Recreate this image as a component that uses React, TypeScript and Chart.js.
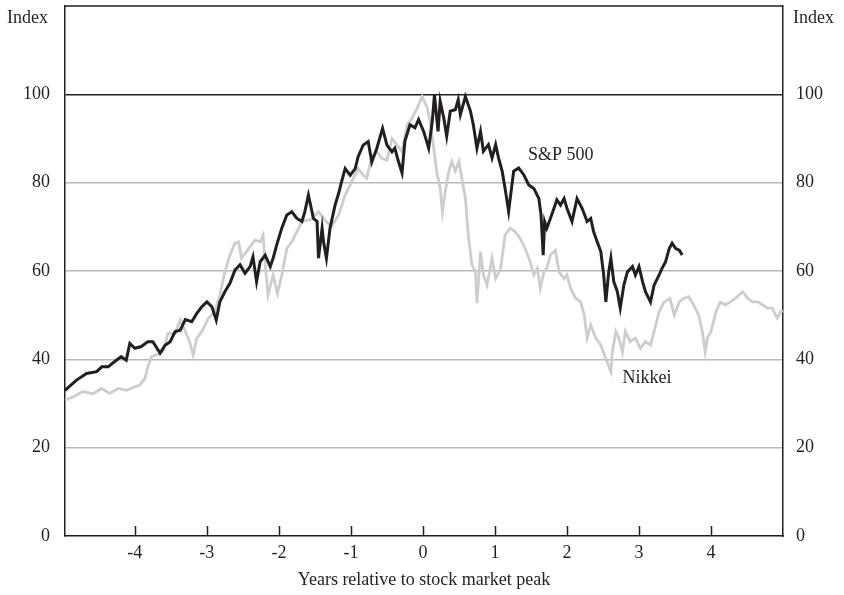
import React, { useEffect, useRef } from "react";
import { Chart, registerables } from "chart.js";

Chart.register(...registerables);

const FONT = '"Liberation Serif", "Times New Roman", serif';
const INK = "#231f20";
const GRID = "#b8b8b8";
const NIKKEI_GRAY = "#cdcdcd";

// Years relative to stock market peak
const spYears = [
  -4.97, -4.81, -4.67, -4.53, -4.46, -4.37, -4.28, -4.19, -4.12, -4.07,
  -4.0, -3.91, -3.82, -3.75, -3.65, -3.58, -3.51, -3.44, -3.37, -3.3,
  -3.21, -3.14, -3.07, -3.0, -2.93, -2.87, -2.82, -2.75, -2.68, -2.61,
  -2.54, -2.47, -2.4, -2.36, -2.31, -2.26, -2.19, -2.12, -2.08, -2.03,
  -1.96, -1.89, -1.82, -1.75, -1.68, -1.64, -1.59, -1.52, -1.47, -1.45,
  -1.4, -1.38, -1.34, -1.29, -1.22, -1.17, -1.13, -1.08, -1.01, -0.94,
  -0.9, -0.83, -0.76, -0.71, -0.64, -0.56, -0.5, -0.43, -0.39, -0.34,
  -0.29, -0.25, -0.18, -0.11, -0.06, 0.01, 0.08, 0.13, 0.16, 0.21,
  0.24, 0.29, 0.33, 0.38, 0.45, 0.49, 0.52, 0.59, 0.66, 0.7,
  0.75, 0.8, 0.84, 0.91, 0.96, 1.01, 1.05, 1.1, 1.14, 1.19,
  1.26, 1.33, 1.4, 1.47, 1.54, 1.61, 1.64, 1.67, 1.69, 1.72,
  1.77, 1.82, 1.86, 1.91, 1.96, 2.0, 2.07, 2.14, 2.21, 2.28,
  2.33, 2.37, 2.42, 2.47, 2.51, 2.54, 2.58, 2.61, 2.65, 2.7,
  2.74, 2.79, 2.84, 2.91, 2.95, 3.0, 3.05, 3.09, 3.16, 3.21,
  3.28, 3.32, 3.37, 3.42, 3.46, 3.51, 3.56, 3.6,
];
const spValues = [
  33.0, 35.3, 36.8, 37.2, 38.3, 38.3, 39.5, 40.6, 39.8, 43.6,
  42.5, 42.9, 44.0, 44.0, 41.4, 43.2, 44.0, 46.3, 46.6, 49.0,
  48.5, 50.4, 51.9, 53.0, 51.9, 48.9, 53.0, 55.3, 57.2, 60.2,
  61.4, 59.5, 61.0, 63.2, 57.6, 62.1, 63.6, 61.0, 62.9, 65.9,
  69.7, 72.7, 73.4, 71.9, 71.2, 73.4, 77.2, 71.9, 71.2, 62.9,
  69.7, 66.6, 62.9, 69.7, 74.9, 77.6, 80.2, 83.2, 81.7, 83.2,
  85.9, 88.5, 89.3, 84.7, 87.8, 92.3, 88.5, 87.0, 87.8, 84.8,
  82.2, 89.4, 93.1, 92.4, 94.3, 91.6, 87.8, 93.9, 99.9, 91.6,
  98.4, 94.6, 90.5, 96.2, 96.5, 98.8, 95.4, 99.5, 96.2, 93.1,
  87.8, 91.6, 87.1, 88.6, 85.6, 88.6, 85.6, 82.6, 78.8, 73.5,
  82.6, 83.3, 81.8, 79.5, 78.7, 76.4, 72.7, 63.6, 71.2, 69.7,
  71.9, 74.2, 76.1, 74.9, 76.4, 74.2, 71.2, 76.4, 74.2, 71.2,
  71.9, 68.9, 66.6, 64.4, 59.1, 53.0, 59.8, 62.9, 57.6, 55.3,
  51.6, 56.8, 59.8, 61.0, 59.1, 61.0, 57.6, 55.3, 53.0, 56.8,
  59.1, 60.6, 62.1, 65.1, 66.3, 65.1, 64.7, 63.6,
];

const nkYears = [
  -4.97, -4.86, -4.72, -4.58, -4.46, -4.35, -4.23, -4.12, -4.0, -3.93,
  -3.86, -3.82, -3.77, -3.7, -3.61, -3.54, -3.44, -3.37, -3.3, -3.24,
  -3.19, -3.14, -3.07, -2.98, -2.89, -2.82, -2.75, -2.68, -2.61, -2.56,
  -2.52, -2.45, -2.38, -2.33, -2.26, -2.22, -2.19, -2.15, -2.08, -2.02,
  -1.96, -1.89, -1.82, -1.75, -1.68, -1.61, -1.57, -1.45, -1.36, -1.27,
  -1.17, -1.08, -0.99, -0.9, -0.83, -0.78, -0.71, -0.64, -0.57, -0.5,
  -0.43, -0.36, -0.29, -0.22, -0.15, -0.08, -0.01, 0.06, 0.1, 0.15,
  0.19, 0.24, 0.27, 0.31, 0.36, 0.4, 0.45, 0.5, 0.54, 0.59,
  0.63, 0.68, 0.73, 0.75, 0.8, 0.84, 0.89, 0.96, 1.01, 1.08,
  1.14, 1.21, 1.28, 1.35, 1.42, 1.49, 1.54, 1.59, 1.63, 1.68,
  1.72, 1.77, 1.84, 1.89, 1.96, 2.0, 2.05, 2.12, 2.19, 2.24,
  2.28, 2.33, 2.4, 2.47, 2.54, 2.61, 2.63, 2.68, 2.72, 2.77,
  2.81, 2.88, 2.95, 3.02, 3.09, 3.16, 3.21, 3.28, 3.35, 3.43,
  3.49, 3.56, 3.62, 3.69, 3.76, 3.83, 3.88, 3.92, 3.95, 4.0,
  4.07, 4.13, 4.2, 4.27, 4.34, 4.44, 4.51, 4.58, 4.65, 4.72,
  4.78, 4.85, 4.92, 4.97, 5.0,
];
const nkValues = [
  30.8, 31.5, 32.7, 32.2, 33.4, 32.3, 33.4, 33.0, 33.8, 34.2,
  35.7, 38.3, 40.6, 41.0, 41.7, 45.9, 45.9, 48.9, 46.3, 44.0,
  41.0, 44.8, 46.3, 49.3, 50.8, 54.6, 59.8, 63.6, 66.3, 66.6,
  62.9, 64.4, 65.9, 67.0, 66.6, 68.1, 61.4, 54.6, 59.1, 54.9,
  59.1, 65.1, 66.6, 68.9, 71.2, 71.5, 71.5, 73.4, 71.5, 70.0,
  72.7, 77.2, 80.2, 83.2, 81.7, 81.0, 85.9, 87.0, 85.5, 85.1,
  90.0, 88.5, 87.0, 93.1, 94.6, 96.9, 99.5, 96.9, 93.9, 87.8,
  82.6, 78.8, 73.4, 78.0, 82.6, 84.8, 82.6, 84.8, 81.0, 76.5,
  68.1, 61.4, 59.8, 52.7, 64.4, 59.1, 56.8, 62.9, 58.3, 60.6,
  68.1, 69.7, 68.9, 67.4, 65.1, 62.1, 59.1, 60.6, 56.1, 59.8,
  60.6, 63.6, 64.7, 59.8, 58.3, 59.1, 56.1, 53.8, 53.0, 50.0,
  44.8, 47.8, 44.8, 43.2, 40.2, 37.2, 41.7, 46.3, 44.8, 41.7,
  46.3, 44.0, 44.8, 42.5, 44.0, 43.2, 46.3, 50.8, 53.0, 53.8,
  50.0, 53.0, 53.8, 54.2, 52.3, 50.0, 46.3, 41.7, 44.8, 46.3,
  50.8, 53.0, 52.3, 53.0, 53.8, 55.3, 53.8, 53.0, 53.0, 52.3,
  51.6, 51.6, 49.3, 50.8, 51.0,
];

const xTickValues = [-4, -3, -2, -1, 0, 1, 2, 3, 4];
const yTickValues = [0, 20, 40, 60, 80, 100];
const X_MIN = -4.97;
const X_MAX = 5;
const Y_MIN = 0;
const Y_MAX = 120;

const xTitle = "Years relative to stock market peak";
const yTitle = "Index";
const spLabel = "S&P 500";
const nkLabel = "Nikkei";
// label anchor positions in data units
const spLabelAt = { x: 1.46, y: 86.3 };
const nkLabelAt = { x: 2.77, y: 35.8 };

const decorPlugin = {
  id: "decor",
  afterDraw(chart: any) {
    const { ctx, chartArea } = chart;
    const xs = chart.scales.x;
    const ys = chart.scales.y;
    ctx.save();
    ctx.strokeStyle = INK;
    ctx.lineWidth = 1.5;
    // top frame
    ctx.beginPath();
    ctx.moveTo(chartArea.left, chartArea.top);
    ctx.lineTo(chartArea.right, chartArea.top);
    ctx.stroke();
    // inward x tick marks
    ctx.beginPath();
    for (const v of xTickValues) {
      const px = Math.round(xs.getPixelForValue(v)) + 0.5;
      ctx.moveTo(px, chartArea.bottom);
      ctx.lineTo(px, chartArea.bottom - 10);
    }
    ctx.stroke();
    ctx.fillStyle = INK;
    ctx.font = `18px ${FONT}`;
    ctx.textBaseline = "middle";
    ctx.textAlign = "left";
    ctx.fillText(yTitle, 7, 18);
    ctx.fillText(yTitle, 793, 18);
    ctx.fillText(spLabel, xs.getPixelForValue(spLabelAt.x), ys.getPixelForValue(spLabelAt.y));
    ctx.fillText(nkLabel, xs.getPixelForValue(nkLabelAt.x), ys.getPixelForValue(nkLabelAt.y));
    ctx.restore();
  },
};

export default function App() {
  const ref = useRef<HTMLCanvasElement>(null);
  useEffect(() => {
    document.body.style.margin = "0";
    const spData = spYears.map((x, i) => ({ x, y: spValues[i] }));
    const nkData = nkYears.map((x, i) => ({ x, y: nkValues[i] }));
    const tickFont = { family: FONT, size: 18 };
    const chart = new Chart(ref.current as HTMLCanvasElement, {
      type: "line",
      data: {
        datasets: [
          {
            label: spLabel,
            data: spData,
            borderColor: INK,
            borderWidth: 3,
            pointRadius: 0,
            tension: 0,
            yAxisID: "y",
          },
          {
            label: nkLabel,
            data: nkData,
            borderColor: NIKKEI_GRAY,
            borderWidth: 2.8,
            pointRadius: 0,
            tension: 0,
            yAxisID: "y",
          },
        ],
      },
      options: {
        animation: false,
        responsive: false,
        layout: { padding: { top: 6, left: 0, right: 0, bottom: 0 } },
        plugins: { legend: { display: false }, tooltip: { enabled: false } },
        scales: {
          x: {
            type: "linear",
            position: "bottom",
            min: X_MIN,
            max: X_MAX,
            afterBuildTicks: (s: any) => {
              s.ticks = xTickValues.map((value) => ({ value }));
            },
            afterFit: (s: any) => {
              s.height = 59;
              s.paddingLeft = 0;
              s.paddingRight = 0;
            },
            grid: { display: false, drawTicks: false },
            border: { display: true, color: INK, width: 1.5 },
            ticks: {
              color: INK,
              font: tickFont,
              padding: 6,
              maxRotation: 0,
              autoSkip: false,
              callback: (v: any) => String(v),
            },
            title: {
              display: true,
              text: xTitle,
              color: INK,
              font: tickFont,
              padding: { top: 0, bottom: 4 },
            },
          },
          y: {
            type: "linear",
            position: "left",
            min: Y_MIN,
            max: Y_MAX,
            afterBuildTicks: (s: any) => {
              s.ticks = yTickValues.map((value) => ({ value }));
            },
            afterFit: (s: any) => {
              s.width = 65;
              s.paddingTop = 0;
              s.paddingBottom = 0;
            },
            grid: {
              drawTicks: false,
              lineWidth: 1.5,
              color: (c: any) =>
                c.tick && c.tick.value === 100 ? INK : c.tick && c.tick.value === 0 ? "rgba(0,0,0,0)" : GRID,
            },
            border: { display: true, color: INK, width: 1.5 },
            ticks: { color: INK, font: tickFont, padding: 15, callback: (v: any) => String(v) },
          },
          y2: {
            type: "linear",
            position: "right",
            min: Y_MIN,
            max: Y_MAX,
            afterBuildTicks: (s: any) => {
              s.ticks = yTickValues.map((value) => ({ value }));
            },
            afterFit: (s: any) => {
              s.width = 61;
              s.paddingTop = 0;
              s.paddingBottom = 0;
            },
            grid: { display: false, drawTicks: false },
            border: { display: true, color: INK, width: 1.5 },
            ticks: { color: INK, font: tickFont, padding: 13, callback: (v: any) => String(v) },
          },
        },
      },
      plugins: [decorPlugin],
    });
    return () => {
      chart.destroy();
    };
  }, []);
  return (
    <div style={{ width: 844, height: 595, background: "#fff" }}>
      <canvas ref={ref} width={844} height={595} style={{ display: "block" }} />
    </div>
  );
}
